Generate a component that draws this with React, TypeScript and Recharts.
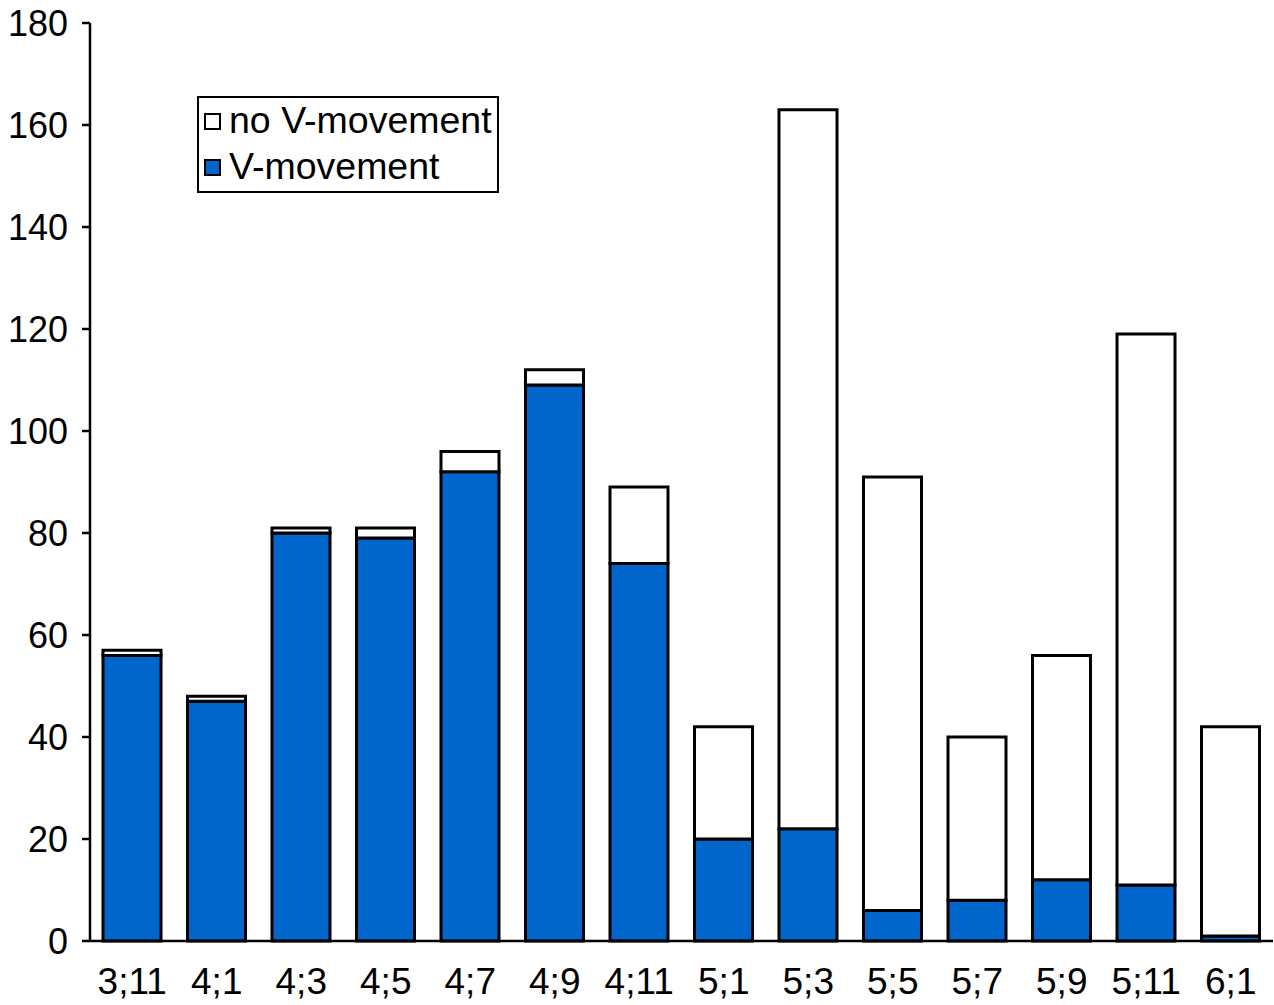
import { BarChart, Bar, XAxis, YAxis } from 'recharts';

const categories = ['3;11', '4;1', '4;3', '4;5', '4;7', '4;9', '4;11', '5;1', '5;3', '5;5', '5;7', '5;9', '5;11', '6;1'];
const vMovement = [56, 47, 80, 79, 92, 109, 74, 20, 22, 6, 8, 12, 11, 1];
const noVMovement = [1, 1, 1, 2, 4, 3, 15, 22, 141, 85, 32, 44, 108, 41];
const yTicks = [0, 20, 40, 60, 80, 100, 120, 140, 160, 180];

const data = categories.map((age, i) => ({
  age,
  v: vMovement[i],
  noV: noVMovement[i],
}));

const font = '"Liberation Sans", Arial, Helvetica, sans-serif';

function LegendBox() {
  const row = (fill: string, label: string) => (
    <div style={{ display: 'flex', alignItems: 'center', height: 46 }}>
      <span
        style={{
          display: 'inline-block',
          width: 13,
          height: 13,
          background: fill,
          border: '2px solid #000',
          marginRight: 8,
        }}
      />
      <span style={{ fontSize: 37.5, color: '#000' }}>{label}</span>
    </div>
  );
  return (
    <div
      style={{
        position: 'absolute',
        left: 197,
        top: 96,
        width: 302,
        height: 97,
        border: '2px solid #000',
        background: '#fff',
        fontFamily: font,
        paddingLeft: 5,
        boxSizing: 'border-box',
        lineHeight: 1,
      }}
    >
      {row('#fff', 'no V-movement')}
      {row('#0066CC', 'V-movement')}
    </div>
  );
}

export default function App() {
  return (
    <div style={{ position: 'relative', width: 1274, height: 1005 }}>
      <style>{'body{margin:0}'}</style>
      <BarChart
        width={1274}
        height={1005}
        data={data}
        margin={{ top: 23, right: 1, bottom: 0, left: 0 }}
        barSize={58}
      >
        <XAxis
          dataKey="age"
          height={64}
          tickLine={false}
          tickSize={0}
          tickMargin={27}
          axisLine={{ stroke: '#000', strokeWidth: 2.5 }}
          tick={{ fill: '#000', fontSize: 37, fontFamily: font }}
          interval={0}
        />
        <YAxis
          width={90}
          domain={[0, 180]}
          ticks={yTicks}
          interval={0}
          tickSize={8}
          tickMargin={14}
          axisLine={{ stroke: '#000', strokeWidth: 2.5 }}
          tickLine={{ stroke: '#000', strokeWidth: 2.5 }}
          tick={{ fill: '#000', fontSize: 36, fontFamily: font }}
        />
        <Bar dataKey="v" name="V-movement" stackId="a" fill="#0066CC" stroke="#000" strokeWidth={3} isAnimationActive={false} />
        <Bar dataKey="noV" name="no V-movement" stackId="a" fill="#fff" stroke="#000" strokeWidth={3} isAnimationActive={false} />
      </BarChart>
      <LegendBox />
    </div>
  );
}
